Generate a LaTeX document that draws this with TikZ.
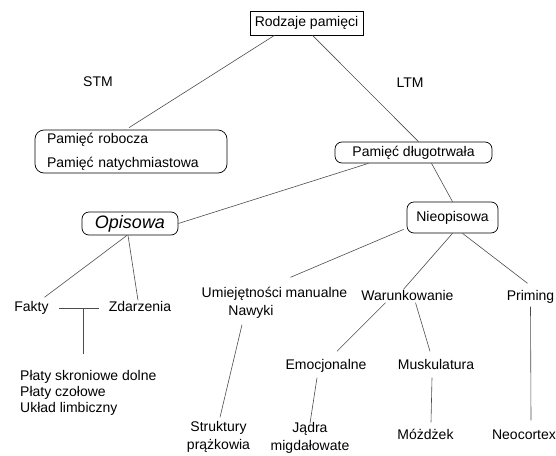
\documentclass[tikz,border=0pt]{standalone}
\usepackage{fontspec}
\setmainfont{Liberation Sans}
\usetikzlibrary{positioning}

\begin{document}
\begin{tikzpicture}[
    x=1pt, y=-1pt, % Pixel-like units, y pointing down
    font=\fontsize{14}{17}\selectfont, % Default text
    linia/.style={draw=black!70, line width=0.6pt}, % Style for connectors
    ramka/.style={draw, line width=0.7pt, inner sep=0pt}, % Style for the title box
    zaokr/.style={draw, line width=0.7pt, rounded corners=7pt, inner sep=0pt}, % Style for rounded boxes
    napis/.style={inner sep=1pt, text height=10pt, text depth=3pt}, % Style for plain labels
    blok/.style={inner sep=0pt, font=\fontsize{14}{18}\selectfont} % Style for multi-line labels
]
    \useasboundingbox (0,0) rectangle (556,455);

    % --- Top level ---
    \node[ramka, minimum width=113pt, minimum height=24pt] (rodzaje) at (306.5,23) {Rodzaje pamięci};
    \node[napis] (stm) at (98,83) {STM};
    \node[napis] (ltm) at (410,84) {LTM};

    \node[zaokr, rounded corners=9pt, minimum width=192pt, minimum height=43pt,
          text width=168pt, align=left] (krotka) at (131,151.5)
          {Pamięć robocza\\[7pt]Pamięć natychmiastowa};
    \node[zaokr, minimum width=157pt, minimum height=21pt] (dluga) at (413.5,152.5) {Pamięć długotrwała};

    \draw[linia] ([xshift=-32pt]rodzaje.south) -- ([xshift=-2pt,yshift=2pt]krotka.north);
    \draw[linia] ([xshift=6pt]rodzaje.south) -- ([xshift=5pt]dluga.north);

    % --- Second level ---
    \node[zaokr, minimum width=96pt, minimum height=23pt, font=\fontsize{18}{22}\selectfont\itshape] (opisowa) at (130,223.5) {Opisowa};
    \node[zaokr, minimum width=91pt, minimum height=31pt] (nieop) at (452.5,217.5) {Nieopisowa};

    \draw[linia] ([xshift=-45pt]dluga.south) -- (opisowa.east);
    \draw[linia] ([xshift=18pt]dluga.south) -- (nieop.north);

    % --- Declarative branch ---
    \node[napis] (fakty) at (31.5,308) {Fakty};
    \node[napis] (zdarzenia) at (140,308) {Zdarzenia};
    \node[blok, font=\fontsize{14}{16}\selectfont, anchor=west, align=left] (plat) at (20,393)
          {Płaty skroniowe dolne\\Płaty czołowe\\Układ limbiczny};
    \coordinate (rozwidlenie) at (83,308);

    \draw[linia] ([xshift=-3pt]opisowa.south) -- ([xshift=13pt,yshift=3pt]fakty.north);
    \draw[linia] ([xshift=-2pt]opisowa.south) -- ([xshift=-2pt]zdarzenia.north);
    \draw[linia, shorten <=9pt, shorten >=9pt] (fakty.east) -- (zdarzenia.west);
    \draw[linia, shorten >=16pt] (rozwidlenie) -- (rozwidlenie |- plat.north);

    % --- Non-declarative branch ---
    \node[napis] (umiej) at (274.5,294) {Umiejętności manualne};
    \node[napis] (nawyki) at (251,312) {Nawyki};
    \node[napis] (warunk) at (407.5,297) {Warunkowanie};
    \node[napis] (priming) at (530.5,297) {Priming};

    \draw[linia] ([xshift=-3pt,yshift=4pt]nieop.south west) -- ([xshift=16pt,yshift=9pt]umiej.north);
    \draw[linia] (nieop.south) -- ([xshift=-4pt]warunk.north);
    \draw[linia] ([xshift=10pt]nieop.south) -- ([xshift=-3pt,yshift=6pt]priming.north);

    % Structures below
    \node[blok, align=center] (struktury) at (218.5,437) {Struktury\\prążkowia};
    \node[napis] (emocj) at (326,366) {Emocjonalne};
    \node[napis] (muskul) at (436,366) {Muskulatura};
    \node[blok, align=center] (jadra) at (310,438) {Jądra\\migdałowate};
    \node[napis] (mozdzek) at (425.5,436) {Móżdżek};
    \node[napis] (neocortex) at (524,436) {Neocortex};

    \draw[linia] ([xshift=-9pt,yshift=-5pt]nawyki.south) -- ([xshift=1.5pt,yshift=4pt]struktury.north);
    \draw[linia] ([xshift=-22pt,yshift=2pt]warunk.south) -- ([xshift=11pt,yshift=7pt]emocj.north);
    \draw[linia] ([xshift=8pt,yshift=2pt]warunk.south) -- ([xshift=-6pt,yshift=7pt]muskul.north);
    \draw[linia] ([xshift=-9pt,yshift=-4pt]emocj.south) -- ([yshift=-1pt]jadra.north);
    \draw[linia] ([xshift=-4pt,yshift=-4pt]muskul.south) -- ([xshift=5.5pt,yshift=6pt]mozdzek.north);
    \draw[linia] ([yshift=-2pt]priming.south) -- ([xshift=7pt,yshift=8pt]neocortex.north);

\end{tikzpicture}
\end{document}
